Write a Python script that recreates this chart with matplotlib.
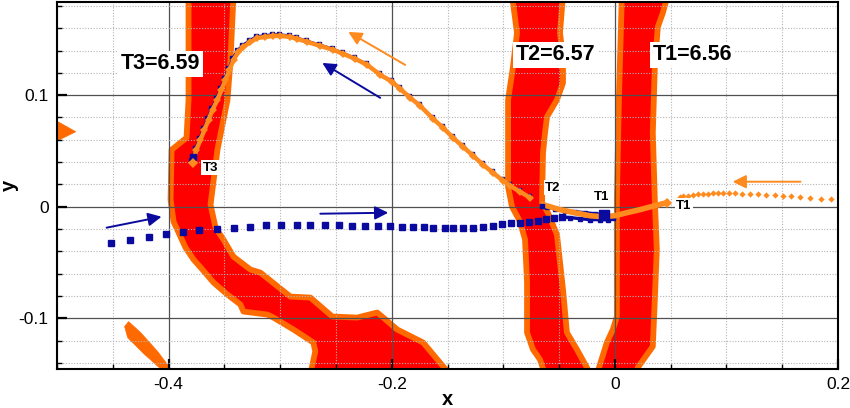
import matplotlib
matplotlib.use('Agg')
import matplotlib.pyplot as plt
from matplotlib.ticker import MultipleLocator
from matplotlib.transforms import offset_copy

plt.rcParams['font.family'] = ['Liberation Sans', 'DejaVu Sans']
plt.rcParams['axes.unicode_minus'] = False

# ---------------- axis ticks ----------------
x_ticks = [-0.4, -0.2, 0.0, 0.2]
x_tick_labels = ['-0.4', '-0.2', '0', '0.2']
y_ticks = [-0.1, 0.0, 0.1]
y_tick_labels = ['-0.1', '0', '0.1']

# ---------------- contour bands (outline of the band) ----------------
band_t3_x = [-0.3821, -0.3821, -0.3839, -0.3973, -0.3982, -0.3955, -0.3848, -0.3776,
             -0.3696, -0.3597, -0.3472, -0.3356, -0.3329, -0.3114, -0.3060, -0.2881,
             -0.2702, -0.2685, -0.2729, -0.1477, -0.1539, -0.1718, -0.1951, -0.2076,
             -0.2130, -0.2309, -0.2532, -0.2729, -0.2908, -0.3177, -0.3266, -0.3418,
             -0.3508, -0.3579, -0.3624, -0.3562, -0.3472, -0.3445, -0.3418]
band_t3_y = [0.1898, 0.0958, 0.0618, 0.0510, 0.0063, -0.0134, -0.0367, -0.0474,
             -0.0564, -0.0680, -0.0788, -0.0877, -0.0940, -0.0967, -0.0994, -0.1101,
             -0.1218, -0.1298, -0.1504, -0.1504, -0.1432, -0.1218, -0.1101, -0.0994,
             -0.0949, -0.0994, -0.0985, -0.0815, -0.0806, -0.0591, -0.0564, -0.0448,
             -0.0295, -0.0188, 0.0018, 0.0510, 0.0958, 0.1316, 0.1898]

band_t2_x = [-0.0922, -0.0877, -0.0913, -0.0957, -0.0957, -0.0922, -0.0850, -0.0805,
             -0.0787, -0.0787, -0.0734, -0.0671, -0.0626, -0.0224, -0.0251, -0.0340,
             -0.0430, -0.0465, -0.0519, -0.0600, -0.0653, -0.0644, -0.0626, -0.0608,
             -0.0519, -0.0465, -0.0465, -0.0492, -0.0465]
band_t2_y = [0.1898, 0.1558, 0.1253, 0.0958, 0.0179, 0.0, -0.0134, -0.0295,
             -0.0680, -0.1128, -0.1280, -0.1370, -0.1504, -0.1504, -0.1441, -0.1280,
             -0.1128, -0.0743, -0.0251, -0.0054, 0.0036, 0.0483, 0.0662, 0.0806,
             0.0958, 0.1110, 0.1343, 0.1558, 0.1898]

band_t1_x = [0.0063, 0.0036, 0.0018, 0.0018, -0.0018, -0.0072, -0.0161, 0.0188,
             0.0206, 0.0340, 0.0358, 0.0376, 0.0358, 0.0340, 0.0358, 0.0385, 0.0430, 0.0474]
band_t1_y = [0.1898, 0.0958, 0.0063, -0.0985, -0.1101, -0.1218, -0.1504, -0.1504,
             -0.1441, -0.1253, -0.0833, -0.0385, 0.0063, 0.0662, 0.1253, 0.1611, 0.1737, 0.1898]

patch_left_x = [-0.5060, -0.4832, -0.5060]
patch_left_y = [0.0800, 0.0672, 0.0560]
patch_bottom_x = [-0.4394, -0.4358, -0.4251, -0.4098, -0.3964, -0.4045, -0.4224, -0.4367]
patch_bottom_y = [-0.1074, -0.1030, -0.1128, -0.1298, -0.1477, -0.1477, -0.1316, -0.1173]

# ---------------- blue particle ----------------
blue_in_x = [-0.4519, -0.4349, -0.4179, -0.4027, -0.3875, -0.3723, -0.3562, -0.3418,
             -0.3266, -0.3123, -0.2989, -0.2846, -0.2729, -0.2595, -0.2470, -0.2353,
             -0.2237, -0.2121, -0.2013, -0.1906, -0.1808, -0.1709, -0.1629, -0.1521,
             -0.1450, -0.1360, -0.1271, -0.1181, -0.1092, -0.1011, -0.0931, -0.0850,
             -0.0770, -0.0689, -0.0617, -0.0546, -0.0474]
blue_in_y = [-0.0322, -0.0295, -0.0269, -0.0242, -0.0224, -0.0206, -0.0197, -0.0188,
             -0.0179, -0.0161, -0.0161, -0.0161, -0.0161, -0.0161, -0.0161, -0.0170,
             -0.0170, -0.0170, -0.0170, -0.0179, -0.0179, -0.0179, -0.0188, -0.0188,
             -0.0188, -0.0188, -0.0188, -0.0179, -0.0170, -0.0152, -0.0143, -0.0143,
             -0.0134, -0.0125, -0.0107, -0.0098, -0.0090]
blue_turn_x = [-0.0474, -0.0403, -0.0313, -0.0224, -0.0134, -0.0063, -0.0018, -0.0098,
               -0.0179, -0.0268, -0.0358, -0.0447, -0.0537, -0.0608, -0.0653]
blue_turn_y = [-0.0090, -0.0098, -0.0107, -0.0116, -0.0116, -0.0116, -0.0098, -0.0072,
               -0.0063, -0.0054, -0.0045, -0.0036, -0.0018, 0.0, 0.0009]

# ---------------- orange particle ----------------
orange_in_x = [0.1939, 0.1850, 0.1751, 0.1662, 0.1581, 0.1506, 0.1432, 0.1358, 0.1282,
               0.1208, 0.1139, 0.1074, 0.1020, 0.0969, 0.0924, 0.0880, 0.0835, 0.0790,
               0.0745, 0.0701, 0.0656, 0.0611, 0.0582]
orange_in_y = [0.0069, 0.0069, 0.0074, 0.0087, 0.0092, 0.0098, 0.0105, 0.0107, 0.0110,
               0.0114, 0.0116, 0.0119, 0.0123, 0.0123, 0.0123, 0.0119, 0.0116, 0.0114,
               0.0110, 0.0105, 0.0098, 0.0092, 0.0087]
orange_turn_x = [0.0465, 0.0358, 0.0224, 0.0107, 0.0, -0.0107, -0.0224, -0.0313,
                 -0.0403, -0.0492, -0.0582, -0.0644]
orange_turn_y = [0.0036, 0.0009, -0.0027, -0.0054, -0.0081, -0.0090, -0.0081, -0.0063,
                 -0.0045, -0.0027, 0.0, 0.0018]

# ---------------- common return path (T2 -> T3) ----------------
path_x = [-0.0761, -0.0850, -0.0940, -0.1002, -0.1092, -0.1181, -0.1271, -0.1360, -0.1450,
          -0.1539, -0.1629, -0.1745, -0.1834, -0.1924, -0.1996, -0.2103, -0.2219, -0.2327,
          -0.2434, -0.2523, -0.2640, -0.2756, -0.2846, -0.2908, -0.2998, -0.3060, -0.3132,
          -0.3203, -0.3266, -0.3329, -0.3374, -0.3418, -0.3454, -0.3490, -0.3526, -0.3562,
          -0.3606, -0.3642, -0.3678, -0.3714, -0.3750, -0.3785]
path_y = [0.0081, 0.0134, 0.0188, 0.0233, 0.0304, 0.0376, 0.0457, 0.0537, 0.0618,
          0.0707, 0.0788, 0.0904, 0.0976, 0.1056, 0.1119, 0.1182, 0.1271, 0.1325,
          0.1370, 0.1406, 0.1441, 0.1477, 0.1504, 0.1522, 0.1531, 0.1531, 0.1522,
          0.1513, 0.1477, 0.1432, 0.1388, 0.1316, 0.1227, 0.1137, 0.1047, 0.0958,
          0.0868, 0.0779, 0.0689, 0.0600, 0.0510, 0.0403]

# event markers
blue_events_x = [-0.0098, -0.0653, -0.3785]
blue_events_y = [-0.0072, 0.0009, 0.0448]
orange_events_x = [0.0465, -0.3785]
orange_events_y = [0.0036, 0.0394]

# arrows (tail -> head)
blue_arrows = [((-0.4555, -0.0188), (-0.4063, -0.0090)),
               ((-0.2640, -0.0063), (-0.2031, -0.0054)),
               ((-0.2103, 0.0976), (-0.2622, 0.1289))]
orange_arrows = [((0.1664, 0.0224), (0.1056, 0.0224)),
                 ((-0.1879, 0.1271), (-0.2389, 0.1567))]

# labels
big_labels = ['T3=6.59', 'T2=6.57', 'T1=6.56']
big_label_x = [-0.4072, -0.0528, 0.0698]
big_label_y = [0.1280, 0.1361, 0.1361]
small_labels = ['T3', 'T2', 'T1', 'T1']
small_label_x = [-0.3624, -0.0555, -0.0116, 0.0617]
small_label_y = [0.0349, 0.0170, 0.0090, 0.0009]

# ---------------- colours ----------------
RED = '#FF0000'
BAND_ORANGE = '#FF6A00'
TRAJ_ORANGE = '#FF8A1E'
BLUE = '#0A0A9E'

fig = plt.figure(figsize=(8.5, 4.08), dpi=100)
ax = fig.add_axes([57 / 850, 1 - 369 / 408, (838 - 57) / 850, (369 - 2) / 408])
ax.set_xlim(-0.5, 0.2)
ax.set_ylim(-0.1455, 0.1835)

# bands
for bx, by in [(band_t3_x, band_t3_y), (band_t2_x, band_t2_y), (band_t1_x, band_t1_y)]:
    ax.fill(bx, by, facecolor=RED, edgecolor=BAND_ORANGE, linewidth=4.2,
            joinstyle='round', zorder=1)
for px, py in [(patch_left_x, patch_left_y), (patch_bottom_x, patch_bottom_y)]:
    ax.fill(px, py, facecolor=BAND_ORANGE, edgecolor=BAND_ORANGE, linewidth=0.5, zorder=1)

# blue particle
ax.plot(blue_in_x, blue_in_y, ls='none', marker='s', ms=3.8, color=BLUE, zorder=3)
ax.plot(blue_turn_x, blue_turn_y, ls='-', lw=2.4, marker='s', ms=2.6, color=BLUE, zorder=3)
shift = offset_copy(ax.transData, fig=fig, x=-1.3, y=2.0, units='dots')
ax.plot(path_x, path_y, ls='-', lw=1.0, marker='s', ms=2.4, color=BLUE, transform=shift, zorder=3)

# orange particle
ax.plot(orange_in_x, orange_in_y, ls='none', marker='D', ms=3.2, color=TRAJ_ORANGE,
        markeredgewidth=0, zorder=4)
ax.plot(orange_turn_x, orange_turn_y, ls='-', lw=4.0, color=TRAJ_ORANGE, zorder=4)
ax.plot(path_x, path_y, ls='-', lw=3.2, marker='D', ms=4.2, color=TRAJ_ORANGE,
        markeredgewidth=0, zorder=4)

# event markers
ax.plot(blue_events_x[0], blue_events_y[0], 's', ms=6.5, color=BLUE, zorder=5)
ax.plot(blue_events_x[1], blue_events_y[1], 's', ms=3.5, color=BLUE, zorder=5)
ax.plot(blue_events_x[2], blue_events_y[2], 's', ms=4.5, color=BLUE, zorder=4.5)
ax.plot(orange_events_x[0], orange_events_y[0], 'D', ms=5.2, color=TRAJ_ORANGE, markeredgewidth=0, zorder=5)
ax.plot(orange_events_x[1], orange_events_y[1], 'D', ms=5.5, color=TRAJ_ORANGE, markeredgewidth=0, zorder=5)

# arrows
for (tail, head) in blue_arrows:
    ax.annotate('', xy=head, xytext=tail,
                arrowprops=dict(arrowstyle='-|>', color=BLUE, lw=1.4,
                                mutation_scale=20, shrinkA=0, shrinkB=0), zorder=5)
for (tail, head) in orange_arrows:
    ax.annotate('', xy=head, xytext=tail,
                arrowprops=dict(arrowstyle='-|>', color=TRAJ_ORANGE, lw=1.4,
                                mutation_scale=20, shrinkA=0, shrinkB=0), zorder=5)

# labels
for s, x, y in zip(big_labels, big_label_x, big_label_y):
    ax.text(x, y, s, ha='center', va='center', fontsize=15.5, fontweight='bold',
            bbox=dict(facecolor='white', edgecolor='none', pad=2.0), zorder=6)
for s, x, y in zip(small_labels, small_label_x, small_label_y):
    ax.text(x, y, s, ha='center', va='center', fontsize=9.5, fontweight='bold',
            bbox=dict(facecolor='white', edgecolor='none', pad=1.0), zorder=6)

# axes styling
ax.set_xticks(x_ticks, x_tick_labels)
ax.set_yticks(y_ticks, y_tick_labels)
ax.xaxis.set_minor_locator(MultipleLocator(0.05))
ax.yaxis.set_minor_locator(MultipleLocator(0.02))
ax.set_axisbelow(False)
ax.grid(which='major', color='#505050', lw=0.9, ls='-')
ax.grid(which='minor', color='#b4b4b4', lw=0.8, ls=(0, (1, 1.5)))
ax.tick_params(which='major', direction='in', length=7, width=1.6, labelsize=12.5, pad=6)
ax.tick_params(which='minor', direction='in', length=3.5, width=1.0)
for sp in ax.spines.values():
    sp.set_linewidth(1.5)
    sp.set_color('black')
    sp.set_zorder(7)

ax.set_xlabel('x', fontsize=14.5, fontweight='bold', labelpad=-2)
ax.set_ylabel('y', fontsize=14.5, fontweight='bold', labelpad=0)

fig.savefig('out.png', dpi=100)
